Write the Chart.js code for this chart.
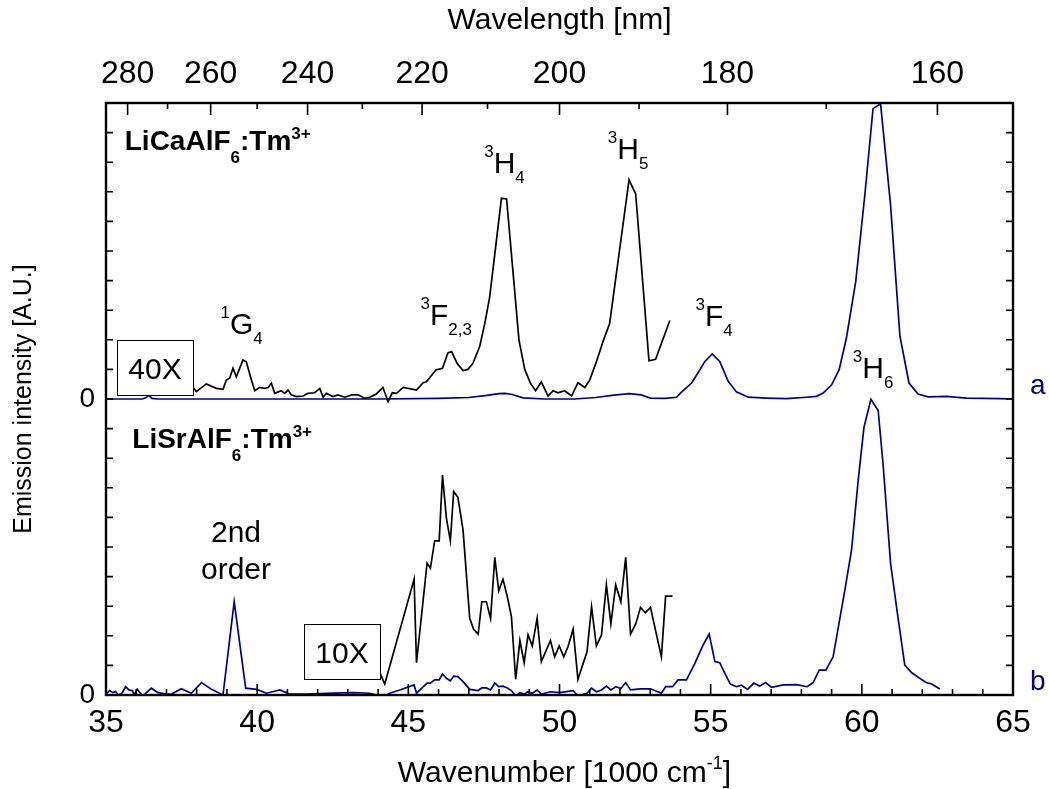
<!DOCTYPE html>
<html>
<head>
<meta charset="utf-8">
<title>Tm3+ emission spectra</title>
<script src="https://cdn.jsdelivr.net/npm/chart.js@4.4.0/dist/chart.umd.min.js"></script>
<style>
  body { margin: 0; background: #fff; }
  canvas { display: block; }
</style>
</head>
<body>
<canvas id="spectra" width="1049" height="789"></canvas>
<script>
// wavenumber axis in 1000 cm-1, spectrum a (LiCaAlF6) stacked above spectrum b (LiSrAlF6)
const xTicks = [35, 40, 45, 50, 55, 60, 65];
const wavelengthTicks = [280, 260, 240, 220, 200, 180, 160];
const wavelengthMinor = [270, 250, 230, 210, 190, 170];
const offsetA = 10;

// a: full spectrum (blue), values above its own zero
const aBlue = [[35,0],[36.2,0],[36.33,0.05],[36.42,0.12],[36.52,0.02],[36.7,0],[38,0],[40,0],[42,0],[44,0],
  [46,0.02],[47.0,0.05],[47.6,0.12],[48.0,0.18],[48.2,0.19],[48.4,0.16],[48.8,0.04],[49.5,0],[50.5,0],
  [51.2,0.05],[51.8,0.13],[52.3,0.18],[52.7,0.14],[53.0,0.03],[53.5,0.02],[53.87,0.06],[54.0,0.2],
  [54.37,0.54],[54.64,0.98],[54.81,1.27],[55.05,1.52],[55.30,1.27],[55.58,0.60],[55.85,0.24],[56.24,0.06],
  [56.85,0.03],[57.51,0.01],[58.17,0.06],[58.50,0.09],[58.72,0.20],[59.00,0.48],[59.25,0.99],[59.49,2.06],
  [59.80,3.98],[60.10,6.90],[60.37,9.81],[60.62,9.97],[60.95,6.56],[61.26,2.12],[61.56,0.54],[61.86,0.17],
  [62.19,0.07],[62.80,0.09],[63.46,0.03],[64.56,0.01],[65,0]];

// a: 40X magnified part (black)
const aBlack = [[37.0,0.30],[37.5,0.35],[37.88,0.39],[37.99,0.25],[38.32,0.51],[38.65,0.36],[38.87,0.33],
  [38.98,0.64],[39.09,0.70],[39.20,1.04],[39.31,0.75],[39.53,1.32],[39.64,1.26],[39.81,0.64],[39.92,0.28],
  [40.08,0.39],[40.25,0.36],[40.36,0.39],[40.47,0.53],[40.58,0.19],[40.80,0.28],[40.91,0.19],[41.02,0.30],
  [41.13,0.14],[41.30,0.08],[41.52,0.10],[41.68,0.19],[41.90,0.21],[42.07,0.36],[42.18,0.06],[42.29,0.19],
  [42.51,0.08],[42.67,0.14],[42.90,0.06],[43.12,0.14],[43.34,0.14],[43.56,0.02],[43.72,0.06],[43.94,0.17],
  [44.16,0.39],[44.33,-0.09],[44.47,0.21],[44.61,0.19],[44.83,0.39],[45.27,0.30],[45.49,0.55],[45.60,0.58],
  [45.91,0.98],[46.13,1.04],[46.31,1.56],[46.43,1.60],[46.61,1.21],[46.81,0.96],[46.97,1.00],[47.14,1.21],
  [47.36,1.77],[47.53,2.56],[47.69,3.44],[48.08,6.78],[48.25,6.76],[48.66,1.99],[48.85,1.00],[49.04,0.53],
  [49.21,0.28],[49.40,0.58],[49.62,0.10],[49.79,0.28],[49.95,0.21],[50.17,0.28],[50.40,0.10],[50.61,0.55],
  [50.84,0.39],[51.00,0.64],[51.22,1.26],[51.44,1.94],[51.66,2.56],[52.30,7.40],[52.52,6.93],[52.96,1.29],
  [53.18,1.34],[53.65,2.65]];

// b: full spectrum (blue)
const bBlue = [[35.0,0.03],[35.12,0.15],[35.23,0.08],[35.32,0.12],[35.40,0.0],[35.52,0.05],[35.65,0.28],
  [35.76,0.17],[35.87,0.15],[35.93,0.0],[36.03,0.19],[36.12,0.08],[36.22,-0.03],[36.50,0.23],[36.72,0.08],
  [37.00,0.03],[37.17,0.03],[37.49,0.21],[37.82,0.06],[38.16,0.42],[38.49,0.19],[38.87,0.0],[39.24,3.15],
  [39.62,0.23],[39.98,0.19],[40.31,0.06],[40.75,0.17],[41.08,0.03],[41.63,0.03],[42.51,0.06],[43.17,0.08],
  [43.72,0.06],[44.16,-0.06],[44.38,0.06],[44.72,0.17],[45.19,0.34],[45.27,0.06],[45.62,0.40],[45.73,0.40],
  [45.87,0.51],[46.02,0.51],[46.13,0.71],[46.26,0.56],[46.39,0.48],[46.50,0.64],[46.64,0.62],[46.81,0.45],
  [47.03,0.19],[47.31,0.15],[47.43,0.24],[47.58,0.24],[47.72,0.17],[47.86,0.40],[47.99,0.28],[48.13,0.30],
  [48.27,0.24],[48.41,0.15],[48.55,-0.03],[48.69,0.08],[48.83,0.03],[48.96,0.11],[49.10,0.06],[49.26,0.17],
  [49.40,0.03],[49.70,0.11],[50.00,0.08],[50.45,0.15],[50.61,-0.03],[50.91,0.06],[51.06,0.23],[51.22,0.11],
  [51.39,0.17],[51.55,0.30],[51.70,0.17],[51.86,0.28],[52.03,0.22],[52.19,0.42],[52.35,0.17],[52.68,0.21],
  [53.01,0.21],[53.37,0.06],[53.51,0.28],[53.74,0.28],[53.92,0.51],[54.20,0.51],[54.47,1.05],[54.75,1.69],
  [54.95,2.06],[55.14,1.13],[55.30,1.09],[55.47,0.73],[55.65,0.37],[55.85,0.28],[56.02,0.33],[56.22,0.19],
  [56.43,0.40],[56.62,0.30],[56.82,0.42],[57.01,0.26],[57.40,0.34],[57.84,0.35],[58.19,0.28],[58.39,0.42],
  [58.59,0.84],[58.81,0.84],[59.05,1.29],[59.44,3.55],[59.66,4.90],[59.88,7.26],[60.07,9.04],[60.30,9.99],
  [60.54,9.61],[60.70,7.83],[60.95,4.45],[61.17,2.81],[61.42,1.01],[61.65,0.75],[61.92,0.56],[62.12,0.42],
  [62.31,0.37],[62.58,0.20]];

// b: 10X magnified part (black)
const bBlack = [[43.8,1.2],[44.0,0.9],[44.22,0.37],[45.19,3.91],[45.27,1.09],[45.62,4.45],[45.73,4.28],
  [45.87,5.21],[46.02,5.21],[46.13,7.43],[46.26,5.97],[46.39,5.21],[46.50,6.87],[46.64,6.68],[46.81,5.57],
  [47.03,2.59],[47.16,2.22],[47.31,2.06],[47.43,3.15],[47.58,3.15],[47.72,2.59],[47.86,4.65],[47.99,3.52],
  [48.13,3.91],[48.27,3.34],[48.41,2.65],[48.55,0.53],[48.69,1.84],[48.83,1.09],[48.96,2.03],[49.10,1.66],
  [49.26,2.59],[49.40,1.13],[49.70,1.84],[49.84,1.29],[49.99,1.66],[50.14,1.29],[50.28,1.63],[50.45,2.22],
  [50.61,0.53],[50.91,1.46],[51.06,2.98],[51.22,1.66],[51.39,2.03],[51.55,3.72],[51.70,2.40],[51.86,3.72],
  [52.03,3.15],[52.19,4.65],[52.35,2.06],[52.52,2.40],[52.68,2.96],[52.84,2.78],[53.01,2.96],[53.37,1.29],
  [53.51,3.34],[53.74,3.34]];

const peakLabels = [
  { x: 38.79, y: 12.20, parts: [['1', '^'], ['G', ''], ['4', '_']] },
  { x: 45.40, y: 12.50, parts: [['3', '^'], ['F', ''], ['2,3', '_']] },
  { x: 47.51, y: 17.62, parts: [['3', '^'], ['H', ''], ['4', '_']] },
  { x: 51.60, y: 18.11, parts: [['3', '^'], ['H', ''], ['5', '_']] },
  { x: 54.50, y: 12.46, parts: [['3', '^'], ['F', ''], ['4', '_']] },
  { x: 59.70, y: 10.71, parts: [['3', '^'], ['H', ''], ['6', '_']] }
];
const sampleLabels = [
  { x: 35.62, y: 18.41, parts: [['LiCaAlF', ''], ['6', '_'], [':Tm', ''], ['3+', '^']] },
  { x: 35.87, y: 8.33, parts: [['LiSrAlF', ''], ['6', '_'], [':Tm', ''], ['3+', '^']] }
];
const boxes = [
  { x0: 35.36, x1: 37.88, y0: 10.14, y1: 11.99, text: '40X' },
  { x0: 41.54, x1: 44.05, y0: 0.54, y1: 2.41, text: '10X' }
];

const FONT = '"Liberation Sans", Arial, Helvetica, sans-serif';
const navy = '#000080';
Chart.defaults.font.family = FONT;

function drawRich(ctx, parts, x, y, o) {
  const weight = o.bold ? 'bold ' : '';
  let w = 0;
  parts.forEach(p => {
    ctx.font = weight + (p[1] ? o.small : o.size) + 'px ' + FONT;
    w += ctx.measureText(p[0]).width;
  });
  let cx = o.align === 'center' ? x - w / 2 : x;
  parts.forEach(p => {
    ctx.font = weight + (p[1] ? o.small : o.size) + 'px ' + FONT;
    const dy = p[1] === '^' ? -o.up : (p[1] === '_' ? o.down : 0);
    ctx.fillText(p[0], cx, y + dy);
    cx += ctx.measureText(p[0]).width;
  });
}

const decor = {
  id: 'decor',
  afterDatasetsDraw(chart) {
    const {ctx, scales: {x, y}} = chart;
    ctx.save();
    ctx.textBaseline = 'alphabetic';
    ctx.textAlign = 'left';
    boxes.forEach(b => {
      const l = Math.round(x.getPixelForValue(b.x0)), r = Math.round(x.getPixelForValue(b.x1));
      const t = Math.round(y.getPixelForValue(b.y1)), bt = Math.round(y.getPixelForValue(b.y0));
      ctx.fillStyle = '#fff';
      ctx.fillRect(l, t, r - l, bt - t);
      ctx.strokeStyle = '#000';
      ctx.lineWidth = 1;
      ctx.strokeRect(l + 0.5, t + 0.5, r - l, bt - t);
      ctx.fillStyle = '#000';
      drawRich(ctx, [[b.text, '']], (l + r) / 2, (t + bt) / 2 + 11, {size: 30, align: 'center'});
    });
    ctx.fillStyle = '#000';
    peakLabels.forEach(p => {
      drawRich(ctx, p.parts, x.getPixelForValue(p.x), y.getPixelForValue(p.y),
        {size: 30, small: 17, up: 16, down: 10});
    });
    sampleLabels.forEach(p => {
      drawRich(ctx, p.parts, x.getPixelForValue(p.x), y.getPixelForValue(p.y),
        {size: 28, small: 17, up: 11, down: 13, bold: true});
    });
    drawRich(ctx, [['2nd', '']], x.getPixelForValue(39.30), y.getPixelForValue(5.18), {size: 30, align: 'center'});
    drawRich(ctx, [['order', '']], x.getPixelForValue(39.30), y.getPixelForValue(3.92), {size: 30, align: 'center'});
    ctx.restore();
  },
  afterDraw(chart) {
    const {ctx, chartArea: ca, scales: {x, xTop, y}} = chart;
    ctx.save();
    ctx.strokeStyle = '#000';
    ctx.lineWidth = 1.6;
    ctx.beginPath();
    for (let v = 35; v <= 65; v++) {
      const px = x.getPixelForValue(v);
      ctx.moveTo(px, ca.bottom);
      ctx.lineTo(px, ca.bottom - (v % 5 === 0 ? 11 : 6));
    }
    wavelengthTicks.concat(wavelengthMinor).forEach(l => {
      const px = xTop.getPixelForValue(1e4 / l);
      ctx.moveTo(px, ca.top);
      ctx.lineTo(px, ca.top + (l % 20 === 0 ? 12 : 6));
    });
    for (let v = 0; v <= 20; v++) {
      const py = y.getPixelForValue(v);
      ctx.moveTo(ca.left, py);
      ctx.lineTo(ca.left + 7, py);
      ctx.moveTo(ca.right, py);
      ctx.lineTo(ca.right - 7, py);
    }
    ctx.stroke();
    ctx.lineWidth = 2.4;
    ctx.strokeRect(ca.left, ca.top, ca.right - ca.left, ca.bottom - ca.top);

    // axis titles
    ctx.fillStyle = '#000';
    const mid = (ca.left + ca.right) / 2;
    drawRich(ctx, [['Wavenumber [1000 cm', ''], ['-1', '^'], [']', '']], mid + 5, 782,
      {size: 30, small: 18, up: 13, align: 'center'});
    drawRich(ctx, [['Wavelength [nm]', '']], mid, 29, {size: 30, align: 'center'});
    ctx.translate(31, (ca.top + ca.bottom) / 2);
    ctx.rotate(-Math.PI / 2);
    drawRich(ctx, [['Emission intensity [A.U.]', '']], 0, 0, {size: 25, align: 'center'});
    ctx.restore();

    ctx.save();
    ctx.fillStyle = navy;
    ctx.font = '28px ' + FONT;
    ctx.fillText('a', ca.right + 17, y.getPixelForValue(offsetA) - 5);
    ctx.fillText('b', ca.right + 17, y.getPixelForValue(0) - 5);
    ctx.restore();
  }
};

const toPoints = (arr, off) => arr.map(p => ({x: p[0], y: p[1] + off}));
const line = (data, color) => ({
  data, borderColor: color, borderWidth: 1.7, pointRadius: 0, tension: 0, fill: false
});

new Chart(document.getElementById('spectra'), {
  type: 'line',
  data: {
    datasets: [
      line(toPoints(aBlack, offsetA), '#000'),
      line(toPoints(bBlack, 0), '#000'),
      line(toPoints(aBlue, offsetA), navy),
      line(toPoints(bBlue, 0), navy)
    ]
  },
  options: {
    responsive: false,
    animation: false,
    parsing: false,
    layout: { padding: { left: 0, right: 36, top: 0, bottom: 0 } },
    plugins: { legend: { display: false }, tooltip: { enabled: false } },
    scales: {
      x: {
        type: 'linear', position: 'bottom', min: 35, max: 65,
        grid: { display: false, drawTicks: false }, border: { display: false },
        afterBuildTicks: s => { s.ticks = xTicks.map(v => ({value: v})); },
        ticks: { autoSkip: false, maxRotation: 0, padding: 9, color: '#000', font: { size: 32 } },
        afterFit: s => { s.height = 94; }
      },
      xTop: {
        type: 'linear', position: 'top', min: 35, max: 65,
        grid: { display: false, drawTicks: false }, border: { display: false },
        afterBuildTicks: s => { s.ticks = wavelengthTicks.map(l => ({value: 1e4 / l})); },
        ticks: {
          autoSkip: false, maxRotation: 0, padding: 10, color: '#000', font: { size: 32 },
          callback: v => String(Math.round(1e4 / v))
        },
        afterFit: s => { s.height = 103; }
      },
      y: {
        type: 'linear', position: 'left', min: 0, max: 20,
        grid: { display: false, drawTicks: false }, border: { display: false },
        ticks: {
          stepSize: 1, autoSkip: false, padding: 11, color: '#000', font: { size: 28 },
          callback: v => (v === 0 || v === offsetA) ? '0' : ''
        },
        afterFit: s => { s.width = 106; }
      }
    }
  },
  plugins: [decor]
});
</script>
</body>
</html>
